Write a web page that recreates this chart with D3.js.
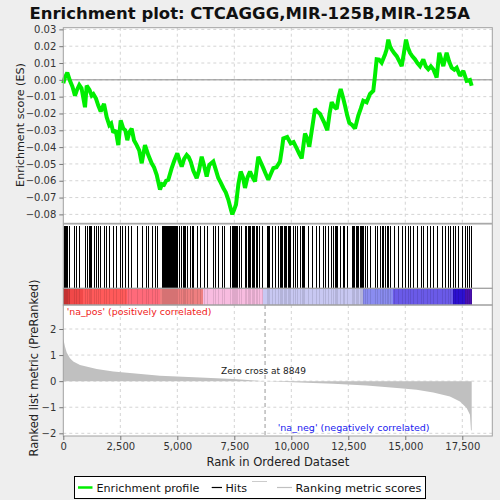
<!DOCTYPE html>
<html><head><meta charset="utf-8">
<script src="https://cdn.jsdelivr.net/npm/d3@7"></script>
<style>body{margin:0;background:#eeeeee}svg{display:block}text{font-family:"DejaVu Sans",sans-serif}</style>
</head><body><svg id="c" width="500" height="500"></svg>
<script>
// ---------------- data ----------------
const titleText = "Enrichment plot: CTCAGGG,MIR-125B,MIR-125A";
const esRanks = [0,60,175,294,400,513,600,702,800,952,1026,1150,1245,1320,1430,1535,1640,1785,1903,2018,2100,2193,2300,2412,2517,2632,2720,2807,2900,3000,3101,3219,3330,3439,3583,3728,3877,3980,4096,4241,4330,4417,4510,4605,4754,4870,5000,5100,5193,5300,5412,5500,5588,5700,5851,5950,6070,6171,6289,6404,6579,6700,6798,6900,7018,7130,7237,7330,7412,7500,7575,7680,7781,7880,7969,8080,8189,8300,8408,8553,8660,8772,8880,8991,9100,9211,9350,9504,9600,9649,9820,9974,10100,10237,10350,10456,10601,10700,10789,10900,11039,11150,11259,11434,11579,11680,11772,11880,11991,12080,12167,12260,12355,12450,12544,12680,12794,12939,13050,13158,13303,13452,13596,13671,13744,13850,13963,14110,14180,14254,14330,14404,14510,14623,14740,14842,14940,15031,15120,15206,15310,15425,15530,15645,15790,15900,16009,16120,16228,16300,16375,16491,16580,16667,16813,16920,17035,17150,17254,17398,17544,17690,17836,17912];
const esValues = [-0.002,0.001,0.0043,-0.0006,-0.004,-0.0094,-0.006,-0.0031,-0.005,-0.0163,-0.0035,-0.006,-0.0094,-0.0085,-0.011,-0.0153,-0.0188,-0.0143,-0.0222,-0.027,-0.026,-0.0314,-0.030,-0.0388,-0.0241,-0.029,-0.030,-0.0359,-0.031,-0.029,-0.0359,-0.0388,-0.042,-0.0496,-0.0388,-0.0447,-0.0496,-0.052,-0.0565,-0.0653,-0.062,-0.0624,-0.060,-0.0594,-0.0525,-0.048,-0.0437,-0.048,-0.0516,-0.047,-0.0447,-0.046,-0.0486,-0.054,-0.0584,-0.054,-0.0457,-0.0506,-0.0575,-0.0506,-0.0486,-0.054,-0.0584,-0.061,-0.0643,-0.067,-0.0712,-0.076,-0.0800,-0.077,-0.0741,-0.062,-0.0545,-0.058,-0.0643,-0.058,-0.0545,-0.058,-0.0604,-0.0457,-0.049,-0.0525,-0.056,-0.0594,-0.056,-0.0525,-0.052,-0.0486,-0.040,-0.0349,-0.034,-0.0378,-0.037,-0.0408,-0.044,-0.0467,-0.0319,-0.035,-0.0398,-0.030,-0.0173,-0.019,-0.0202,-0.0251,-0.030,-0.020,-0.0133,-0.016,-0.0173,-0.010,-0.0055,-0.010,-0.0153,-0.021,-0.0255,-0.027,-0.029,-0.0212,-0.017,-0.0124,-0.0133,-0.0084,-0.0065,0.0024,0.0122,0.012,0.0102,0.0151,0.018,0.0239,0.020,0.018,0.016,0.0141,0.011,0.0082,0.016,0.0239,0.019,0.0161,0.014,0.0122,0.010,0.0082,0.0122,0.008,0.0063,0.008,0.0063,0.004,0.0014,0.0161,0.012,0.0082,0.0161,0.011,0.0072,0.006,0.0072,0.0024,0.0053,-0.0006,-0.0001,-0.0035];
const hitRanks = [44,73,117,146,249,468,556,673,950,1053,1140,1170,1199,1360,1433,1506,1608,1784,1857,2018,2193,2310,2485,2559,2705,2851,2968,3216,3465,3626,3699,3874,4021,4094,4342,4386,4430,4474,4518,4561,4605,4635,4678,4722,4766,4810,4854,4898,4942,4986,5088,5146,5234,5292,5351,5439,5556,5629,5702,5848,5994,6170,6287,6579,6652,6769,6945,7047,7310,7383,7427,7471,7515,7559,7603,7720,7778,7968,8027,8085,8144,8202,8261,8319,8377,8436,8480,8597,8728,8918,8977,9035,9138,9284,9430,9489,9547,9605,9664,9722,9781,9839,9898,9942,10088,10161,10234,10380,10453,10512,10570,10746,10892,11082,11228,11374,11477,11623,11740,11842,11900,11959,12018,12135,12252,12310,12427,12646,12705,12763,12822,12880,12939,12997,13056,13085,13158,13231,13304,13450,13670,13772,13889,13962,14035,14108,14181,14255,14328,14503,14693,14839,14986,15132,15205,15351,15526,15673,15790,15936,16082,16228,16374,16594,16740,16886,16959,17076,17178,17325,17471,17617,17719,17807,17866];
const metricRanks = [0,73,149,294,439,732,1464,2193,2924,4240,5994,7456,8849,10380,11842,13304,14766,15497,16228,16959,17398,17690,17836,17880,17912];
const metricValues = [1.63,1.33,1.10,0.88,0.75,0.62,0.47,0.37,0.31,0.21,0.14,0.08,0.0,-0.05,-0.10,-0.17,-0.27,-0.33,-0.44,-0.59,-0.78,-1.03,-1.29,-1.87,-1.90];
const bandStarts = [0,294,864,2794,4241,6127,8759,13145,14461,17092,17618];
const bandEnd = 17912;
const esTicks = [0.03,0.02,0.01,0.00,-0.01,-0.02,-0.03,-0.04,-0.05,-0.06,-0.07,-0.08];
const metricTicks = [2,1,0,-1,-2];
const rankTicks = [0,2500,5000,7500,10000,12500,15000,17500];
const zeroCross = 8849;
const rankMax = 18816;
// ---------------- styles ----------------
const bandColors = ["#d83838","#f04848","#ff5a5a","#ff6a7a","#ee7f80","#f8bce0","#c8c8f2","#8a8cf0","#6a5ae8","#2c10d0","#4a10b0"];

const svg = d3.select("#c");
const L = 63.3, R = 492.3;
const x = d3.scaleLinear().domain([0, rankMax]).range([L, R]);
const yES = d3.scaleLinear().domain([0.031, -0.0853]).range([27.7, 223.3]);
const yM = d3.scaleLinear().domain([2, -2]).range([329, 433.3]);
const topY0 = 27.7, topY1 = 223.3, hitY0 = 224, hitY1 = 288.3, bandY1 = 305, botY1 = 436;

function fit(sel, w){ const n=sel.node(); const len=n.getComputedTextLength(); const fs=parseFloat(sel.attr("font-size")); sel.attr("font-size", fs*w/len); }

// title
fit(svg.append("text").attr("x",249.7).attr("y",19).attr("text-anchor","middle").attr("font-size",18).attr("font-weight","bold").attr("fill","#111").text(titleText), 441);

// panel backgrounds
svg.append("rect").attr("x",L).attr("y",topY0).attr("width",R-L).attr("height",botY1-topY0).attr("fill","#fff");

// grid
const grid = svg.append("g").attr("stroke","#d4d4d4").attr("stroke-dasharray","3,3").attr("stroke-width",1);
esTicks.forEach(t=>grid.append("line").attr("x1",L).attr("x2",R).attr("y1",yES(t)).attr("y2",yES(t)));
rankTicks.slice(1).forEach(t=>grid.append("line").attr("x1",x(t)).attr("x2",x(t)).attr("y1",topY0).attr("y2",topY1));
metricTicks.forEach(t=>grid.append("line").attr("x1",L).attr("x2",R).attr("y1",yM(t)).attr("y2",yM(t)));
rankTicks.slice(1).forEach(t=>grid.append("line").attr("x1",x(t)).attr("x2",x(t)).attr("y1",bandY1).attr("y2",botY1));

// zero line top
svg.append("line").attr("x1",L).attr("x2",R).attr("y1",yES(0)).attr("y2",yES(0)).attr("stroke","#888").attr("stroke-width",1);

// ES curve
const esData = esRanks.map((r,i)=>[r,esValues[i]]);
svg.append("path").datum(esData).attr("fill","none").attr("stroke","#00ee00").attr("stroke-width",4).attr("stroke-linejoin","miter").attr("stroke-miterlimit",2)
  .attr("d", d3.line().x(d=>x(d[0])).y(d=>yES(d[1])));

// hits
const snap = v => Math.round(v) + 0.5;
svg.append("g").attr("shape-rendering","crispEdges").selectAll("line").data(hitRanks).join("line")
  .attr("x1",d=>snap(x(d))).attr("x2",d=>snap(x(d))).attr("y1",hitY0+1.5).attr("y2",hitY1).attr("stroke","#000").attr("stroke-width",1);

// band
svg.append("g").attr("shape-rendering","crispEdges").selectAll("rect").data(bandStarts).join("rect")
  .attr("x",d=>x(d)).attr("width",(d,i)=>x(i<bandStarts.length-1?bandStarts[i+1]:bandEnd)-x(d)+0.3)
  .attr("y",hitY1).attr("height",bandY1-hitY1).attr("fill",(d,i)=>bandColors[i]);
svg.append("g").attr("shape-rendering","crispEdges").selectAll("line").data(hitRanks).join("line")
  .attr("x1",d=>snap(x(d))).attr("x2",d=>snap(x(d))).attr("y1",hitY1).attr("y2",bandY1).attr("stroke","#000").attr("stroke-opacity",0.1).attr("stroke-width",1);

// metric area
const mData = metricRanks.map((r,i)=>[r,metricValues[i]]);
svg.append("path").datum(mData).attr("fill","#c0c0c0")
  .attr("d", d3.area().x(d=>x(d[0])).y0(yM(0)).y1(d=>yM(d[1])));

// zero cross
svg.append("line").attr("x1",x(zeroCross)).attr("x2",x(zeroCross)).attr("y1",bandY1).attr("y2",botY1).attr("stroke","#999").attr("stroke-dasharray","4,3");
fit(svg.append("text").attr("x",263.5).attr("y",374).attr("text-anchor","middle").attr("font-size",11).attr("fill","#222").text("Zero cross at "+zeroCross),85);
fit(svg.append("text").attr("x",66.7).attr("y",315).attr("font-size",11).attr("fill","#f02020").text("'na_pos' (positively correlated)"),145);
fit(svg.append("text").attr("x",277.7).attr("y",430.5).attr("font-size",11).attr("fill","#2020f0").text("'na_neg' (negatively correlated)"),152);

// borders
const bc = "#a0a0a0";
[[topY0,topY1],[hitY0,hitY1],[hitY1,bandY1],[bandY1,botY1]].forEach(([a,b])=>
  svg.append("rect").attr("x",L).attr("y",a).attr("width",R-L).attr("height",b-a).attr("fill","none").attr("stroke",bc).attr("stroke-width",1));

// axes
const fmtES = d3.format(".2f");
const gA = svg.append("g").attr("transform",`translate(${L},0)`).call(d3.axisLeft(yES).tickValues(esTicks).tickFormat(fmtES).tickSize(4).tickPadding(3));
const gM = svg.append("g").attr("transform",`translate(${L},0)`).call(d3.axisLeft(yM).tickValues(metricTicks).tickFormat(d3.format("d")).tickSize(4).tickPadding(3));
const gX = svg.append("g").attr("transform",`translate(0,${botY1})`).call(d3.axisBottom(x).tickValues(rankTicks).tickFormat(d3.format(",")).tickSize(4).tickPadding(3));
[gA,gM,gX].forEach(g=>{g.selectAll("text").attr("font-family","DejaVu Sans").attr("font-size",10).attr("fill","#333");
  g.selectAll("line").attr("stroke","#777"); g.select(".domain").attr("stroke","none");});

// axis titles
fit(svg.append("text").attr("transform","translate(24,125) rotate(-90)").attr("text-anchor","middle").attr("font-size",12).attr("fill","#222").text("Enrichment score (ES)"),124);
fit(svg.append("text").attr("transform","translate(38,368) rotate(-90)").attr("text-anchor","middle").attr("font-size",12).attr("fill","#222").text("Ranked list metric (PreRanked)"),177);
fit(svg.append("text").attr("x",277.8).attr("y",466).attr("text-anchor","middle").attr("font-size",13).attr("fill","#222").text("Rank in Ordered Dataset"),143);

// legend
svg.append("rect").attr("x",74.5).attr("y",476.5).attr("width",351).attr("height",22).attr("fill","#fff").attr("stroke","#000");
svg.append("line").attr("x1",78).attr("x2",92.5).attr("y1",487.5).attr("y2",487.5).attr("stroke","#00ee00").attr("stroke-width",2.5);
fit(svg.append("text").attr("x",96.5).attr("y",491.5).attr("font-size",12).attr("fill","#111").text("Enrichment profile"),103);
svg.append("line").attr("x1",211.7).attr("x2",222).attr("y1",487.5).attr("y2",487.5).attr("stroke","#000").attr("stroke-width",1.2);
fit(svg.append("text").attr("x",225.5).attr("y",491.5).attr("font-size",12).attr("fill","#111").text("Hits"),21.5);
svg.append("line").attr("x1",252).attr("x2",267).attr("y1",481.5).attr("y2",481.5).attr("stroke","#ccc").attr("stroke-width",1);
svg.append("line").attr("x1",277).attr("x2",292).attr("y1",487.5).attr("y2",487.5).attr("stroke","#c0c0c0").attr("stroke-width",1.2);
fit(svg.append("text").attr("x",295.5).attr("y",491.5).attr("font-size",12).attr("fill","#111").text("Ranking metric scores"),126);
</script></body></html>
